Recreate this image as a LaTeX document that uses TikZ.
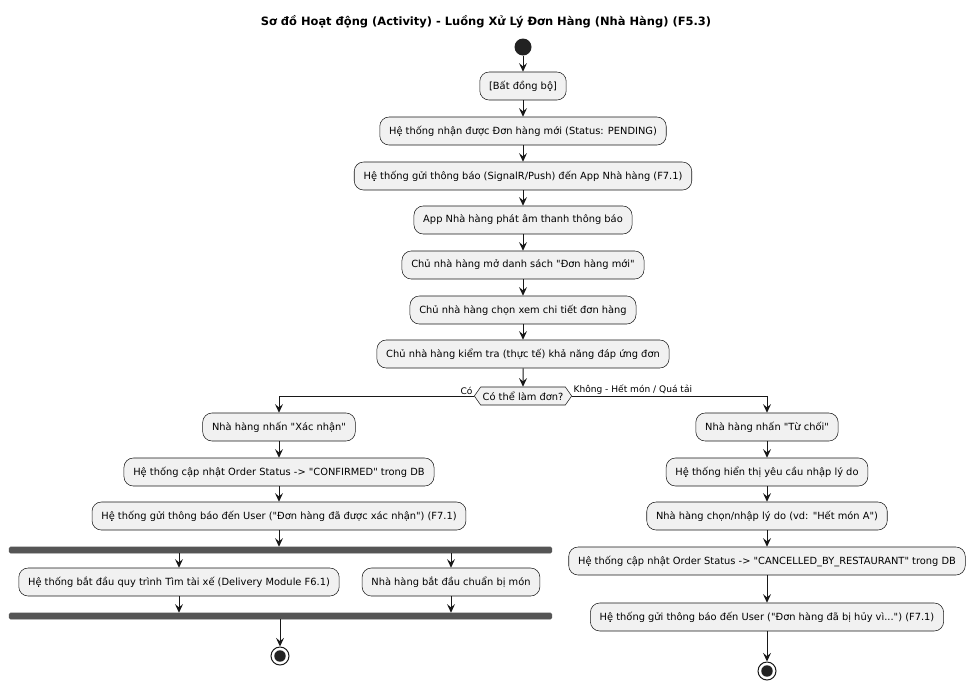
\documentclass[tikz,border=0pt]{standalone}
\usepackage{fontspec}
\setmainfont[Ligatures=TeXOff]{DejaVu Sans}
\usetikzlibrary{arrows.meta, shapes.symbols}
\definecolor{linec}{HTML}{181818}
\definecolor{boxfill}{HTML}{F1F1F1}
\definecolor{barfill}{HTML}{555555}
\definecolor{dotfill}{HTML}{222222}

\begin{document}
\begin{tikzpicture}[x=0.75pt, y=-0.75pt,
	act/.style={draw=linec, line width=0.4pt, fill=boxfill, rounded corners=7pt, minimum height=21pt, inner xsep=7pt, font=\fontsize{7.4}{9}\selectfont},
	bar/.style={draw=barfill, fill=barfill, rounded corners=1pt, minimum width=407pt, minimum height=4.5pt, inner sep=0pt},
	flow/.style={draw=linec, line width=0.75pt, -{Stealth[length=6.5pt, width=6pt, inset=2.5pt]}},
	guard/.style={font=\fontsize{6.8}{8}\selectfont, inner sep=1pt},
	startdot/.style={circle, fill=dotfill, minimum size=12.75pt, inner sep=0pt},
	enddot/.style={circle, draw=linec, line width=0.75pt, fill=white, minimum size=13.5pt, inner sep=0pt,
		path picture={\fill[dotfill] (path picture bounding box.center) circle (4.3pt);}}]
	\useasboundingbox (0,0) rectangle (975,687);

	\node[font=\bfseries\fontsize{8.6}{10}\selectfont] (title) at (486,22) {Sơ đồ Hoạt động (Activity) - Luồng Xử Lý Đơn Hàng (Nhà Hàng) (F5.3)};

	% main line
	\node[startdot] (start) at (523,47) {};
	\node[act] (async) at (523,86) {[Bất đồng bộ]};
	\node[act] (recv) at (523,131) {Hệ thống nhận được Đơn hàng mới (Status: PENDING)};
	\node[act] (push) at (523,176) {Hệ thống gửi thông báo (SignalR/Push) đến App Nhà hàng (F7.1)};
	\node[act] (sound) at (523,220) {App Nhà hàng phát âm thanh thông báo};
	\node[act] (list) at (523,265) {Chủ nhà hàng mở danh sách "Đơn hàng mới"};
	\node[act] (detail) at (523,310) {Chủ nhà hàng chọn xem chi tiết đơn hàng};
	\node[act] (check) at (523,354) {Chủ nhà hàng kiểm tra (thực tế) khả năng đáp ứng đơn};
	\node[draw=linec, line width=0.4pt, fill=boxfill, shape=signal, signal to=east and west, signal pointer angle=110,
		minimum height=13.5pt, inner xsep=1.5pt, inner ysep=1pt, font=\fontsize{7.4}{9}\selectfont] (dec) at (523,396) {Có thể làm đơn?};
	\node[guard, anchor=south east] (yes) at (dec.west) {Có};
	\node[guard, anchor=south west] (no) at (dec.east) {Không - Hết món / Quá tải};

	% accept branch
	\node[act] (ok1) at (279,427) {Nhà hàng nhấn "Xác nhận"};
	\node[act] (ok2) at (279,472) {Hệ thống cập nhật Order Status -> "CONFIRMED" trong DB};
	\node[act] (ok3) at (279,516) {Hệ thống gửi thông báo đến User ("Đơn hàng đã được xác nhận") (F7.1)};
	\node[bar] (fork) at (280.5,550) {};
	\node[act] (driver) at (179,582) {Hệ thống bắt đầu quy trình Tìm tài xế (Delivery Module F6.1)};
	\node[act] (cook) at (451,582) {Nhà hàng bắt đầu chuẩn bị món};
	\node[bar] (join) at (280.5,616) {};
	\node[enddot] (endL) at (280,656) {};

	% reject branch
	\node[act] (no1) at (767,427) {Nhà hàng nhấn "Từ chối"};
	\node[act] (no2) at (767,472) {Hệ thống hiển thị yêu cầu nhập lý do};
	\node[act] (no3) at (767,516) {Nhà hàng chọn/nhập lý do (vd: "Hết món A")};
	\node[act] (no4) at (767,561) {Hệ thống cập nhật Order Status -> "CANCELLED\_BY\_RESTAURANT" trong DB};
	\node[act] (no5) at (767,617) {Hệ thống gửi thông báo đến User ("Đơn hàng đã bị hủy vì...") (F7.1)};
	\node[enddot] (endR) at (767,671) {};

	\draw[flow] (start) -- (async);
	\draw[flow] (async) -- (recv);
	\draw[flow] (recv) -- (push);
	\draw[flow] (push) -- (sound);
	\draw[flow] (sound) -- (list);
	\draw[flow] (list) -- (detail);
	\draw[flow] (detail) -- (check);
	\draw[flow] (check) -- (dec);
	\draw[flow] (dec.west) -| (ok1);
	\draw[flow] (dec.east) -| (no1);

	\draw[flow] (ok1) -- (ok2);
	\draw[flow] (ok2) -- (ok3);
	\draw[flow] (ok3) -- (ok3.south |- fork.north);
	\draw[flow] (driver.north |- fork.south) -- (driver);
	\draw[flow] (cook.north |- fork.south) -- (cook);
	\draw[flow] (driver) -- (driver.south |- join.north);
	\draw[flow] (cook) -- (cook.south |- join.north);
	\draw[flow] (join.south -| endL) -- (endL);

	\draw[flow] (no1) -- (no2);
	\draw[flow] (no2) -- (no3);
	\draw[flow] (no3) -- (no4);
	\draw[flow] (no4) -- (no5);
	\draw[flow] (no5) -- (endR);
\end{tikzpicture}
\end{document}
